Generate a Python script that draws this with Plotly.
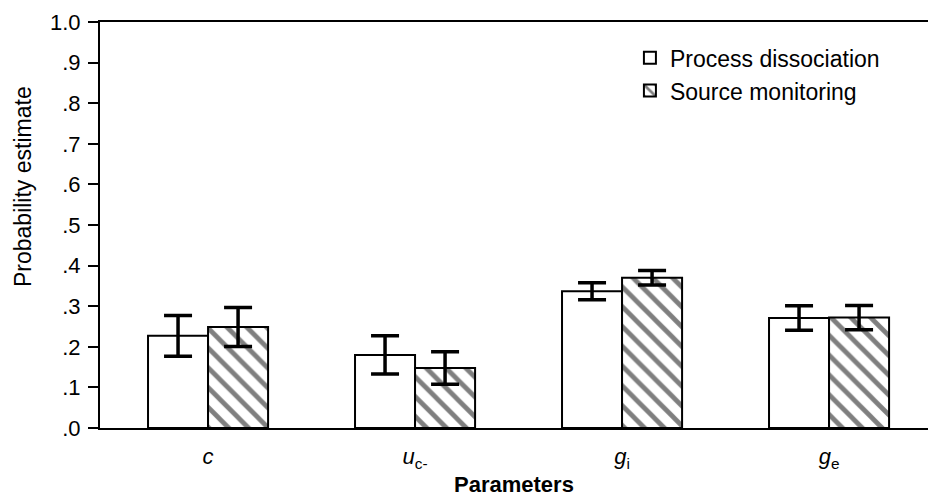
import plotly.graph_objects as go

categories = ["<i>c</i>", "<i>u</i><sub>c-</sub>", "<i>g</i><sub>i</sub>", "<i>g</i><sub>e</sub>"]
pd_values = [0.227, 0.180, 0.337, 0.271]
pd_errors = [0.050, 0.047, 0.021, 0.030]
sm_values = [0.249, 0.148, 0.370, 0.272]
sm_errors = [0.048, 0.040, 0.018, 0.030]
y_tickvals = [0.0, 0.1, 0.2, 0.3, 0.4, 0.5, 0.6, 0.7, 0.8, 0.9, 1.0]
y_ticktext = [".0", ".1", ".2", ".3", ".4", ".5", ".6", ".7", ".8", ".9", "1.0"]
x_title = "<b>Parameters</b>"
y_title = "Probability estimate"

font_family = "Liberation Sans, Arial, sans-serif"

fig = go.Figure()
fig.add_trace(go.Bar(
    name="Process dissociation",
    x=categories, y=pd_values,
    marker=dict(color="white", line=dict(color="black", width=2)),
    error_y=dict(type="data", array=pd_errors, color="black", thickness=3.5, width=14),
))
fig.add_trace(go.Bar(
    name="Source monitoring",
    x=categories, y=sm_values,
    marker=dict(color="white", line=dict(color="black", width=2),
                pattern=dict(shape="\\", size=14, solidity=0.34, fgcolor="black", bgcolor="white")),
    error_y=dict(type="data", array=sm_errors, color="black", thickness=3.5, width=14),
))

fig.update_layout(
    width=928, height=498,
    margin=dict(l=100, r=0, t=22, b=70),
    paper_bgcolor="white", plot_bgcolor="white",
    barmode="group", bargap=0.42, bargroupgap=0,
    font=dict(family=font_family, color="black", size=20),
    showlegend=True,
    legend=dict(x=0.64, y=0.965, xanchor="left", yanchor="top",
                font=dict(size=23, family=font_family), bgcolor="rgba(0,0,0,0)",
                itemwidth=30, tracegroupgap=0),
    xaxis=dict(
        type="category", range=[-0.522, 3.478],
        showline=True, linecolor="black", linewidth=2, mirror=True,
        ticks="outside", ticklen=8, tickcolor="rgba(0,0,0,0)",
        showgrid=False, tickfont=dict(size=22, family=font_family),
    ),
    yaxis=dict(
        range=[0, 1.0], tickvals=y_tickvals, ticktext=y_ticktext,
        showline=True, linecolor="black", linewidth=2,
        ticks="outside", ticklen=10, tickwidth=2, tickcolor="black",
        showgrid=False, zeroline=False, tickfont=dict(size=22, family=font_family),
        ticklabelstandoff=3,
    ),
    annotations=[
        dict(text=x_title, xref="paper", yref="paper", x=0.5, y=-0.14,
             xanchor="center", yanchor="middle", showarrow=False,
             font=dict(size=22, family=font_family, color="black")),
        dict(text=y_title, xref="paper", yref="paper", x=-0.093, y=0.596,
             xanchor="center", yanchor="middle", showarrow=False, textangle=-90,
             font=dict(size=23, family=font_family, color="black")),
    ],
)

fig.write_html("out.html", config={"displayModeBar": False},
               post_script="document.body.style.margin='0';document.body.style.overflow='hidden';")
